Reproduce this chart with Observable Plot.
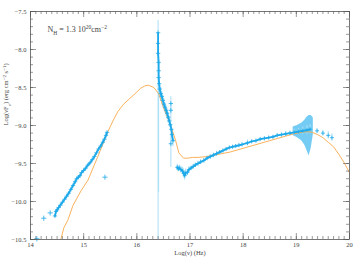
<!DOCTYPE html>
<html><head><meta charset="utf-8">
<script src="https://cdn.jsdelivr.net/npm/d3@7"></script>
<script src="https://cdn.jsdelivr.net/npm/@observablehq/plot@0.6"></script>
<style>body{margin:0;background:#fff}</style>
</head><body><div id="chart"></div>
<script>
// ---------- data ----------
const xMajor = [14, 15, 16, 17, 18, 19, 20];
const yMajor = [-10.5, -10, -9.5, -9, -8.5, -8, -7.5];

// optical / UV
const optX = [14.46,14.48,14.50,14.53,14.56,14.60,14.64,14.68,14.72,14.76,14.80,14.84,14.87,14.90,14.93,14.96,15.00,15.04,15.08,15.12,15.16,15.20,15.24,15.28,15.32,15.36,15.39,15.42,15.44];
const optY = [-10.19,-10.13,-10.11,-10.08,-10.05,-10.01,-9.97,-9.93,-9.89,-9.84,-9.79,-9.74,-9.70,-9.68,-9.66,-9.62,-9.59,-9.56,-9.52,-9.49,-9.45,-9.41,-9.36,-9.31,-9.27,-9.22,-9.18,-9.13,-9.09];
// isolated points
const isoX = [14.12, 14.25, 14.37, 15.40];
const isoY = [-10.49, -10.22, -10.15, -9.68];

// soft X-ray spike
const softX  = [16.40,16.40,16.40,16.41,16.41,16.41,16.42,16.43,16.45,16.47,16.49,16.51,16.53,16.55,16.57,16.59,16.61,16.63,16.65,16.66,16.68];
const softY  = [-7.78,-7.92,-8.05,-8.17,-8.28,-8.37,-8.45,-8.52,-8.58,-8.62,-8.67,-8.72,-8.76,-8.80,-8.84,-8.89,-8.94,-8.99,-9.05,-9.12,-9.20];
const softHi = [-7.62,-7.80,-7.95,-8.05,-8.15,-8.25,-8.35,-8.45,-8.50,-8.55,-8.60,-8.65,-8.70,-8.74,-8.78,-8.83,-8.88,-8.93,-8.98,-9.05,-9.14];
const softLo = [-10.6,-8.10,-8.20,-9.88,-8.45,-8.55,-8.60,-8.62,-8.68,-8.72,-8.76,-8.80,-8.84,-8.88,-8.92,-8.96,-9.02,-9.08,-9.15,-9.22,-9.28];
const soft2X  = [16.64, 16.64, 16.64];
const soft2Y  = [-8.71, -8.80, -9.24];
const soft2Hi = [-8.62, -8.72, -9.10];
const soft2Lo = [-8.85, -8.95, -9.55];

// medium / hard X-ray
const hardX = [16.76,16.78,16.80,16.83,16.86,16.88,16.90,16.92,16.95,16.98,17.02,17.06,17.10,17.15,17.20,17.26,17.32,17.38,17.44,17.50,17.56,17.62,17.68,17.74,17.80,17.86,17.92,17.98,18.08,18.16,18.24,18.32,18.40,18.48,18.56,18.64,18.72,18.80,18.88,18.96,19.04,19.12,19.20,19.26];
const hardY = [-9.55,-9.57,-9.56,-9.58,-9.60,-9.63,-9.66,-9.62,-9.62,-9.58,-9.56,-9.54,-9.52,-9.50,-9.48,-9.46,-9.43,-9.41,-9.39,-9.37,-9.35,-9.33,-9.31,-9.29,-9.28,-9.27,-9.26,-9.25,-9.23,-9.21,-9.20,-9.18,-9.17,-9.16,-9.15,-9.13,-9.12,-9.11,-9.10,-9.09,-9.08,-9.07,-9.06,-9.05];
const hardErr = [0.04,0.04,0.04,0.05,0.05,0.06,0.06,0.05,0.04,0.04,0.03,0.03,0.03,0.03,0.03,0.03,0.03,0.03,0.03,0.03,0.02,0.02,0.02,0.02,0.02,0.02,0.02,0.02,0.04,0.02,0.02,0.02,0.02,0.02,0.02,0.02,0.02,0.03,0.03,0.04,0.04,0.05,0.06,0.06];

// error envelope at the top end
const bandX  = [18.94, 19.02, 19.10, 19.16, 19.20, 19.24, 19.28, 19.32];
const bandHi = [-9.02, -9.00, -8.97, -8.93, -8.89, -8.87, -8.87, -8.90];
const bandLo = [-9.13, -9.16, -9.20, -9.26, -9.33, -9.40, -9.30, -9.12];

// highest-energy points
const endX   = [19.39, 19.50, 19.60, 19.67];
const endY   = [-9.07, -9.10, -9.13, -9.16];
const endErr = [0.03, 0.04, 0.05, 0.05];

// model curve
const modX = [14.57,14.63,14.70,14.80,14.95,15.08,15.26,15.45,15.55,15.64,15.75,15.89,16.00,16.07,16.15,16.22,16.32,16.41,16.50,16.60,16.67,16.73,16.79,16.88,16.95,17.05,17.15,17.30,17.45,17.60,17.75,17.90,18.05,18.20,18.35,18.50,18.65,18.80,18.95,19.10,19.20,19.30,19.40,19.50,19.60,19.70,19.80,19.90,20.00];
const modY = [-10.50,-10.34,-10.25,-10.05,-9.86,-9.72,-9.42,-9.09,-8.94,-8.82,-8.72,-8.63,-8.56,-8.51,-8.48,-8.47,-8.50,-8.58,-8.76,-8.93,-9.07,-9.20,-9.36,-9.43,-9.43,-9.42,-9.42,-9.41,-9.39,-9.37,-9.35,-9.32,-9.29,-9.26,-9.23,-9.20,-9.17,-9.14,-9.11,-9.09,-9.08,-9.09,-9.12,-9.16,-9.22,-9.28,-9.38,-9.49,-9.62];

const annText = "NH = 1.3 1020cm-2";
const xLabel = "Log(ν) (Hz)";
const yLabel = "Log(νFν) (erg cm-2 s-1)";

// ---------- build ----------
const W = 354, H = 261, mt = 11, mb = 22, ml = 30, mr = 5;
const fh = H - mt - mb, fw = W - ml - mr;
const BLUE = "#1eaaea", LIGHT = "#a9def6", ORANGE = "#f8a84a", AX = "#555";

const zip = (xs, ys, extra = {}) => xs.map((x, i) => {
  const o = {x, y: ys[i]};
  for (const k in extra) o[k] = extra[k][i];
  return o;
});
const optD = zip(optX, optY);
const isoD = zip(isoX, isoY);
const softD = zip(softX, softY, {hi: softHi, lo: softLo});
const soft2D = zip(soft2X, soft2Y, {hi: soft2Hi, lo: soft2Lo});
const hardD = zip(hardX, hardY, {e: hardErr});
const bandD = zip(bandX, bandHi, {lo: bandLo});
const endD = zip(endX, endY, {e: endErr});
const modD = zip(modX, modY);

const xMinor = d3.range(140, 201).map(d => d / 10);
const yMinor = d3.range(-105, -74).map(d => d / 10);
const fmt = d => (d < 0 ? "\u2212" : "") + Math.abs(d).toFixed(1);

const plot = Plot.plot({
  width: W, height: H,
  marginTop: mt, marginBottom: mb, marginLeft: ml, marginRight: mr,
  style: {fontFamily: "Liberation Serif, DejaVu Serif, serif", fontSize: "6.5px", background: "#fff"},
  x: {domain: [14, 20]},
  y: {domain: [-10.5, -7.5]},
  marks: [
    Plot.areaY(bandD, {x: "x", y1: "lo", y2: "y", fill: "#5cc3f2", fillOpacity: 0.85, clip: true}),
    Plot.ruleX(softD, {x: "x", y1: "lo", y2: "hi", stroke: LIGHT, strokeWidth: 1, clip: true}),
    Plot.ruleX(soft2D, {x: "x", y1: "lo", y2: "hi", stroke: LIGHT, strokeWidth: 1, clip: true}),
    Plot.ruleX(hardD, {x: "x", y1: d => d.y - d.e, y2: d => d.y + d.e, stroke: LIGHT, strokeWidth: 1}),
    Plot.ruleX(endD, {x: "x", y1: d => d.y - d.e, y2: d => d.y + d.e, stroke: LIGHT, strokeWidth: 1}),
    Plot.line(modD, {x: "x", y: "y", stroke: ORANGE, strokeWidth: 0.9, clip: true}),
    Plot.line(optD, {x: "x", y: "y", stroke: BLUE, strokeWidth: 1.8}),
    Plot.line(softD, {x: "x", y: "y", stroke: BLUE, strokeWidth: 1.8}),
    Plot.line(hardD, {x: "x", y: "y", stroke: BLUE, strokeWidth: 1.8}),
    Plot.dot(optD, {x: "x", y: "y", symbol: "plus", r: 1.5, stroke: BLUE, strokeWidth: 0.8}),
    Plot.dot(isoD, {x: "x", y: "y", symbol: "plus", r: 1.8, stroke: BLUE, strokeWidth: 0.8}),
    Plot.dot(softD, {x: "x", y: "y", symbol: "plus", r: 1.5, stroke: BLUE, strokeWidth: 0.8}),
    Plot.dot(soft2D, {x: "x", y: "y", symbol: "plus", r: 1.5, stroke: BLUE, strokeWidth: 0.8}),
    Plot.dot(hardD, {x: "x", y: "y", symbol: "plus", r: 1.4, stroke: BLUE, strokeWidth: 0.8}),
    Plot.dot(endD, {x: "x", y: "y", symbol: "plus", r: 1.4, stroke: BLUE, strokeWidth: 0.8}),
    // inward ticks
    Plot.tickX(xMinor, {x: d => d, insetTop: fh - 3, stroke: AX, strokeWidth: 0.6}),
    Plot.tickX(xMinor, {x: d => d, insetBottom: fh - 3, stroke: AX, strokeWidth: 0.6}),
    Plot.tickX(xMajor, {x: d => d, insetTop: fh - 6, stroke: AX, strokeWidth: 0.6}),
    Plot.tickX(xMajor, {x: d => d, insetBottom: fh - 6, stroke: AX, strokeWidth: 0.6}),
    Plot.tickY(yMinor, {y: d => d, insetRight: fw - 3, stroke: AX, strokeWidth: 0.6}),
    Plot.tickY(yMinor, {y: d => d, insetLeft: fw - 3, stroke: AX, strokeWidth: 0.6}),
    Plot.tickY(yMajor, {y: d => d, insetRight: fw - 6, stroke: AX, strokeWidth: 0.6}),
    Plot.tickY(yMajor, {y: d => d, insetLeft: fw - 6, stroke: AX, strokeWidth: 0.6}),
    Plot.frame({stroke: AX, strokeWidth: 0.8}),
    Plot.axisX(xMajor, {tickSize: 0, tickPadding: 3, label: null, fill: "#444", fontSize: 6.5}),
    Plot.axisY(yMajor, {tickSize: 0, tickPadding: 4, label: null, tickFormat: fmt, fill: "#444", fontSize: 6.5}),
    Plot.text([xLabel], {frameAnchor: "bottom", dy: 15, fontSize: 6.5, fill: "#444", className: "xlab"}),
    Plot.text([yLabel], {frameAnchor: "left", dx: -25, rotate: -90, fontSize: 6.5, fill: "#444", className: "ylab"}),
    Plot.text([annText], {frameAnchor: "top-left", dx: 17, dy: 15, textAnchor: "start", fontSize: 8, fill: "#444", className: "ann"})
  ]
});
document.getElementById("chart").appendChild(plot);

// rich text (sub/superscripts)
const NS = "http://www.w3.org/2000/svg";
function rich(sel, parts, small) {
  const t = plot.querySelector(sel + " text");
  if (!t) return;
  t.textContent = "";
  for (const [s, kind] of parts) {
    const ts = document.createElementNS(NS, "tspan");
    ts.textContent = s;
    if (kind) { ts.setAttribute("font-size", small); ts.setAttribute("baseline-shift", kind); }
    t.appendChild(ts);
  }
}
rich(".ann", [["N"], ["H", "sub"], [" = 1.3 10"], ["20", "super"], ["cm"], ["\u22122", "super"]], 5.5);
rich(".ylab", [["Log(\u03bdF"], ["\u03bd", "sub"], [") (erg cm"], ["\u22122", "super"], [" s"], ["\u22121", "super"], [")"]], 5);
</script></body></html>
